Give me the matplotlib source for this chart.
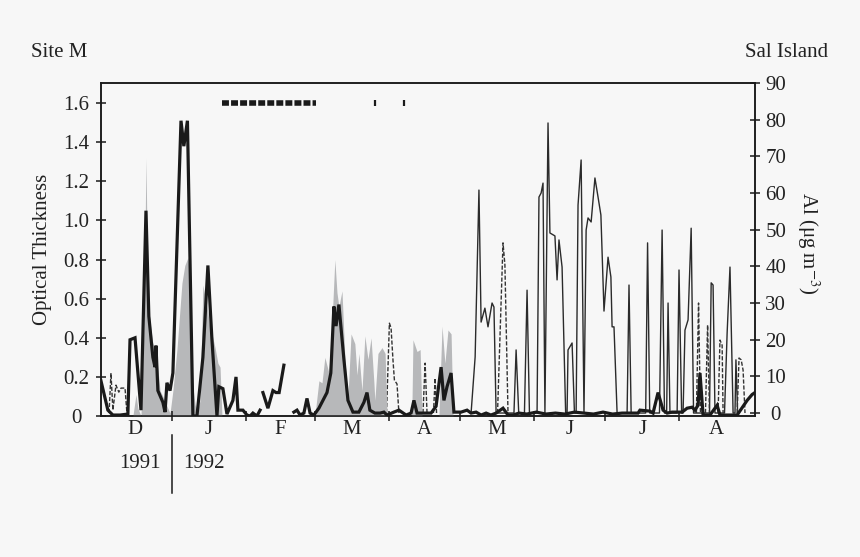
import numpy as np
import matplotlib
matplotlib.use('Agg')
import matplotlib.pyplot as plt
from matplotlib.transforms import blended_transform_factory

plt.rcParams['font.family'] = 'Liberation Serif'
plt.rcParams['mathtext.fontset'] = 'stix'
plt.rcParams['font.size'] = 15

nan = np.nan

# days counted from 1 Dec 1991
month_starts = [0, 31, 62, 91, 122, 152, 183, 213, 244, 275]
month_labels = ['D', 'J', 'F', 'M', 'A', 'M', 'J', 'J', 'A']

# optical thickness, Site M (thick line); nan = gap in record
ot_day = [1.2, 4.1, 6.2, 9.2, 12.5, 13.4, 15.5, 18.0, 20.1, 21.3,
          23.0, 23.9, 24.3, 25.1, 27.2, 28.1, 28.9, 30.2, 31.4, 34.8,
          36.0, 37.5, 39.8, 41.5, 44.0, 46.1, 47.8, 49.9, 50.7, 52.4,
          54.1, 56.6, 57.9, 58.7, 60.8, 62.5, 63.8, 65.0, 66.7, 68.0,
          68.6, 69.2, 71.3, 73.4, 74.7, 76.0, 78.0, 80.0, 82.2, 83.5,
          84.8, 86.4, 87.7, 89.0, 90.6, 92.7, 94.8, 96.1, 97.7, 99.0,
          99.9, 101.1, 103.2, 104.9, 107.0, 109.5, 111.6, 112.9, 114.1, 116.2,
          118.4, 120.0, 121.3, 124.2, 126.3, 129.3, 131.4, 132.6, 133.9, 136.8,
          139.8, 141.9, 144.0, 145.2, 146.5, 148.2, 149.4, 152.4, 154.9, 156.6,
          158.7, 160.8, 162.9, 164.9, 167.1, 170.0, 172.1, 174.2, 176.7, 180.0,
          184.0, 188.0, 192.0, 196.0, 200.0, 204.0, 208.0, 212.0, 216.0, 220.0,
          224.0, 226.7, 227.5, 231.7, 233.0, 235.1, 237.2, 238.9, 241.0, 245.2,
          247.3, 249.4, 250.6, 251.9, 252.7, 254.0, 256.9, 259.9, 261.1, 268.3,
          272.5, 274.6, 275.8]
ot_val = [0.18, 0.03, 0.005, 0.005, 0.01, 0.39, 0.40, 0.03, 1.05, 0.51,
          0.30, 0.25, 0.36, 0.13, 0.07, 0.02, 0.17, 0.13, 0.22, 1.51,
          1.38, 1.51, 0.0, 0.0, 0.30, 0.77, 0.39, 0.0, 0.15, 0.14,
          0.01, 0.08, 0.20, 0.03, 0.03, 0.005, 0.0, 0.015, 0.0, 0.03,
          nan, 0.12, 0.04, 0.13, 0.12, 0.12, 0.26, nan, 0.02, 0.03,
          0.005, 0.015, 0.09, 0.015, 0.005, 0.04, 0.09, 0.12, 0.22, 0.56,
          0.46, 0.57, 0.29, 0.08, 0.02, 0.02, 0.07, 0.12, 0.03, 0.015,
          0.015, 0.02, 0.005, 0.02, 0.03, 0.005, 0.015, 0.08, 0.015, 0.015,
          0.015, 0.05, 0.25, 0.08, 0.15, 0.22, 0.02, 0.02, 0.03, 0.015,
          0.02, 0.005, 0.015, 0.005, 0.015, 0.04, 0.005, 0.005, 0.015, 0.01,
          0.02, 0.01, 0.015, 0.01, 0.02, 0.015, 0.01, 0.02, 0.01, 0.015,
          0.015, 0.015, 0.03, 0.025, 0.015, 0.12, 0.03, 0.015, 0.02, 0.02,
          0.04, 0.045, 0.03, 0.055, 0.22, 0.005, 0.005, 0.055, 0.005, 0.005,
          0.08, 0.11, 0.12]

# grey shaded series (optical thickness units)
fill_day = [14.6, 15.9, 16.7, 18.0, 19.2, 20.1, 20.9, 22.2, 23.0, 24.3,
            25.1, 26.0, 27.2, 28.9, 30.2, 31.4, 33.1, 35.2, 36.4, 37.7,
            38.6, 39.4, 39.8, 40.7, 41.5, 42.8, 44.0, 44.9, 46.1, 47.0,
            47.8, 49.1, 50.3, 51.2, 52.0, 91.0, 92.7, 94.0, 95.2, 96.9,
            98.2, 99.4, 100.3, 101.1, 102.4, 103.6, 104.5, 104.9, 106.2, 107.8,
            108.7, 109.5, 110.8, 112.0, 113.3, 114.6, 115.8, 116.2, 117.5, 119.2,
            120.5, 121.3, 131.7, 132.2, 133.9, 135.2, 136.0, 143.1, 144.4, 145.6,
            146.9, 148.2, 149.0]
fill_val = [0, 0.11, 0.04, 0, 0.44, 1.32, 0.59, 0.44, 0.37, 0.34,
            0.24, 0.13, 0.10, 0.05, 0.015, 0.13, 0.34, 0.68, 0.77, 0.81,
            0.68, 0.29, 0.15, 0.06, 0.015, 0.08, 0.67, 0.61, 0.53, 0.44,
            0.42, 0.35, 0.27, 0.25, 0, 0, 0.18, 0.17, 0.30, 0.22,
            0.48, 0.80, 0.63, 0.56, 0.64, 0.30, 0.13, 0.10, 0.42, 0.37,
            0.21, 0.32, 0.13, 0.41, 0.29, 0.40, 0.17, 0.08, 0.32, 0.35,
            0.32, 0, 0, 0.39, 0.33, 0.34, 0, 0, 0.46, 0.27,
            0.44, 0.42, 0]

# Al at Sal Island, ug m-3 (thin solid line)
al_day = [156.6, 158.3, 159.9, 160.8, 162.4, 163.7, 165.4, 166.2, 167.1, 174.6,
          175.5, 176.6, 179.0, 180.1, 181.1, 184.3, 185.1, 186.0, 186.8, 187.6,
          188.9, 189.7, 191.8, 192.7, 193.5, 194.8, 196.3, 196.9, 197.3, 199.0,
          200.0, 200.7, 201.5, 202.8, 204.0, 204.9, 205.7, 207.0, 208.6, 209.9,
          211.1, 212.4, 214.1, 215.3, 215.8, 216.6, 217.9, 222.1, 222.9, 223.8,
          229.9, 230.7, 231.6, 235.7, 236.8, 237.8, 238.7, 239.3, 240.1, 243.1,
          243.9, 245.0, 245.6, 246.4, 247.7, 249.0, 250.0, 256.7, 257.4, 258.2,
          259.0, 263.0, 264.1, 265.3, 266.6, 267.4, 267.8, 268.5]
al_val = [0, 15.3, 60.8, 24.8, 28.6, 23.5, 30.0, 28.9, 0, 0,
          17.2, 0, 0, 33.5, 0, 0, 58.9, 60.0, 62.7, 0,
          79.1, 49.1, 48.3, 36.3, 47.2, 39.8, 0, 0, 17.2, 19.1,
          0, 0, 56.7, 69.0, 0, 49.9, 53.2, 52.1, 64.1, 58.9,
          54.0, 27.8, 42.5, 37.1, 23.5, 23.5, 0, 0, 34.9, 0,
          0, 46.4, 0, 0, 49.9, 0, 0, 30.0, 0, 0,
          39.0, 0, 0, 22.6, 25.4, 50.4, 0, 0, 35.5, 34.9,
          0, 0, 21.8, 39.8, 0, 0, 14.5, 0]

# Al at Sal Island, dashed pieces
dash_day = [4.6, 5.4, 6.2, 7.5, 8.7, 9.6, 11.3, 12.1, 12.2,
            121.1, 122.3, 123.0, 123.8, 124.4, 125.5, 126.3, 126.4,
            136.4, 137.3, 138.1, 138.2,
            140.8, 141.5, 142.1, 142.2,
            167.7, 170.0, 170.8, 172.1, 172.2,
            251.2, 252.1, 252.9, 253.0,
            255.0, 255.9, 256.7, 256.8,
            260.3, 261.1, 262.0, 262.4, 262.5,
            268.3, 269.1, 270.0, 270.8, 271.6]
dash_val = [0, 10.9, 0.8, 7.6, 5.7, 6.8, 6.8, 0, nan,
            0, 24.5, 23.2, 14.5, 9.0, 7.9, 0, nan,
            0, 13.6, 0, nan,
            0, 9.5, 0, nan,
            0, 46.4, 40.4, 0, nan,
            0, 30.0, 0, nan,
            0, 24.0, 0, nan,
            0, 19.9, 18.5, 0, nan,
            0, 15.0, 14.5, 11.7, 0]

# event markers along the top
event_span = [52.0, 91.5]
event_days = [116.4, 128.4]
event_level = 1.6

bg = '#f7f7f7'
ink = '#1a1a1a'
txt = '#222222'

fig = plt.figure(figsize=(8.6, 5.57), dpi=100, facecolor=bg)
ax = fig.add_axes([0.1174, 0.2531, 0.7605, 0.5979])
ax2 = ax.twinx()
ax.set_zorder(ax2.get_zorder() + 1)
ax.patch.set_visible(False)
ax2.patch.set_visible(False)

ax.fill_between(fill_day, 0, fill_val, color='#b7b8ba', lw=0, zorder=1)
ax.plot(ot_day, ot_val, color=ink, lw=2.3, solid_joinstyle='miter', zorder=3)
ax.plot(event_span, [event_level] * 2, color=ink, lw=4.0,
        dashes=(1.25, 0.38), dash_capstyle='butt', zorder=3)
ax.plot(event_days, [event_level] * len(event_days), ls='none', marker='|',
        ms=5, mew=1.6, color=ink, zorder=3)

ax2.plot(al_day, al_val, color='#2b2b2b', lw=1.0)
ax2.plot(dash_day, dash_val, color='#333333', lw=1.0, dashes=(3, 1.3))

ax.set_xlim(1.2, 275.8)
ax.set_ylim(0, 1.703)
ax2.set_ylim(-0.82, 90)

# month boundaries as ticks, letters centred in each month
mids = [(a + b) / 2 for a, b in zip(month_starts[:-1], month_starts[1:])]
ax.set_xticks(month_starts[1:-1])
ax.set_xticklabels([])
ax.set_xticks(mids, minor=True)
ax.set_xticklabels(month_labels, minor=True)
ax.tick_params(axis='x', which='major', direction='inout', length=7,
               width=1.1, color=ink)
ax.tick_params(axis='x', which='minor', length=0, pad=3, labelsize=15,
               labelcolor=txt)

yt = [0, 0.2, 0.4, 0.6, 0.8, 1.0, 1.2, 1.4, 1.6]
ax.set_yticks(yt)
ax.set_yticklabels(['0'] + ['%.1f' % v for v in yt[1:]])
ax.tick_params(axis='y', direction='inout', length=7, width=1.1,
               pad=14, labelsize=15, color=ink, labelcolor=txt)
for lbl in ax.get_yticklabels():
    lbl.set_horizontalalignment('center')

ax2.set_yticks(range(0, 91, 10))
ax2.tick_params(axis='y', direction='inout', length=7, width=1.1,
                pad=11.5, labelsize=15, color=ink, labelcolor=txt)
for lbl in ax2.get_yticklabels():
    lbl.set_horizontalalignment('center')

for a in (ax, ax2):
    for s in a.spines.values():
        s.set_linewidth(1.1)
        s.set_color(ink)

# axis titles placed by hand
ax.text(-0.090, 0.5, 'Optical Thickness', transform=ax.transAxes,
        rotation=90, ha='center', va='center', fontsize=15, color=txt)
ax2.text(1.081, 0.52, 'Al (\u03bcg m$^{-3}$)', transform=ax2.transAxes,
         rotation=270, ha='center', va='center', fontsize=15, color=txt)

# year divider under the axis
tr = blended_transform_factory(ax.transData, ax.transAxes)
ax.plot([month_starts[1]] * 2, [-0.057, -0.231], transform=tr,
        clip_on=False, color=ink, lw=1.1)
ax.annotate('1991', xy=(month_starts[1], -0.144), xycoords=tr,
            xytext=(-8, 0), textcoords='offset points', ha='right',
            va='center', fontsize=15, color=txt)
ax.annotate('1992', xy=(month_starts[1], -0.144), xycoords=tr,
            xytext=(8, 0), textcoords='offset points', ha='left',
            va='center', fontsize=15, color=txt)

fig.text(31 / 860, 1 - 57 / 557, 'Site M', ha='left', va='baseline',
         fontsize=15, color=txt)
fig.text(828 / 860, 1 - 57 / 557, 'Sal Island', ha='right', va='baseline',
         fontsize=15, color=txt)

fig.savefig('out.png', dpi=100, facecolor=bg)
